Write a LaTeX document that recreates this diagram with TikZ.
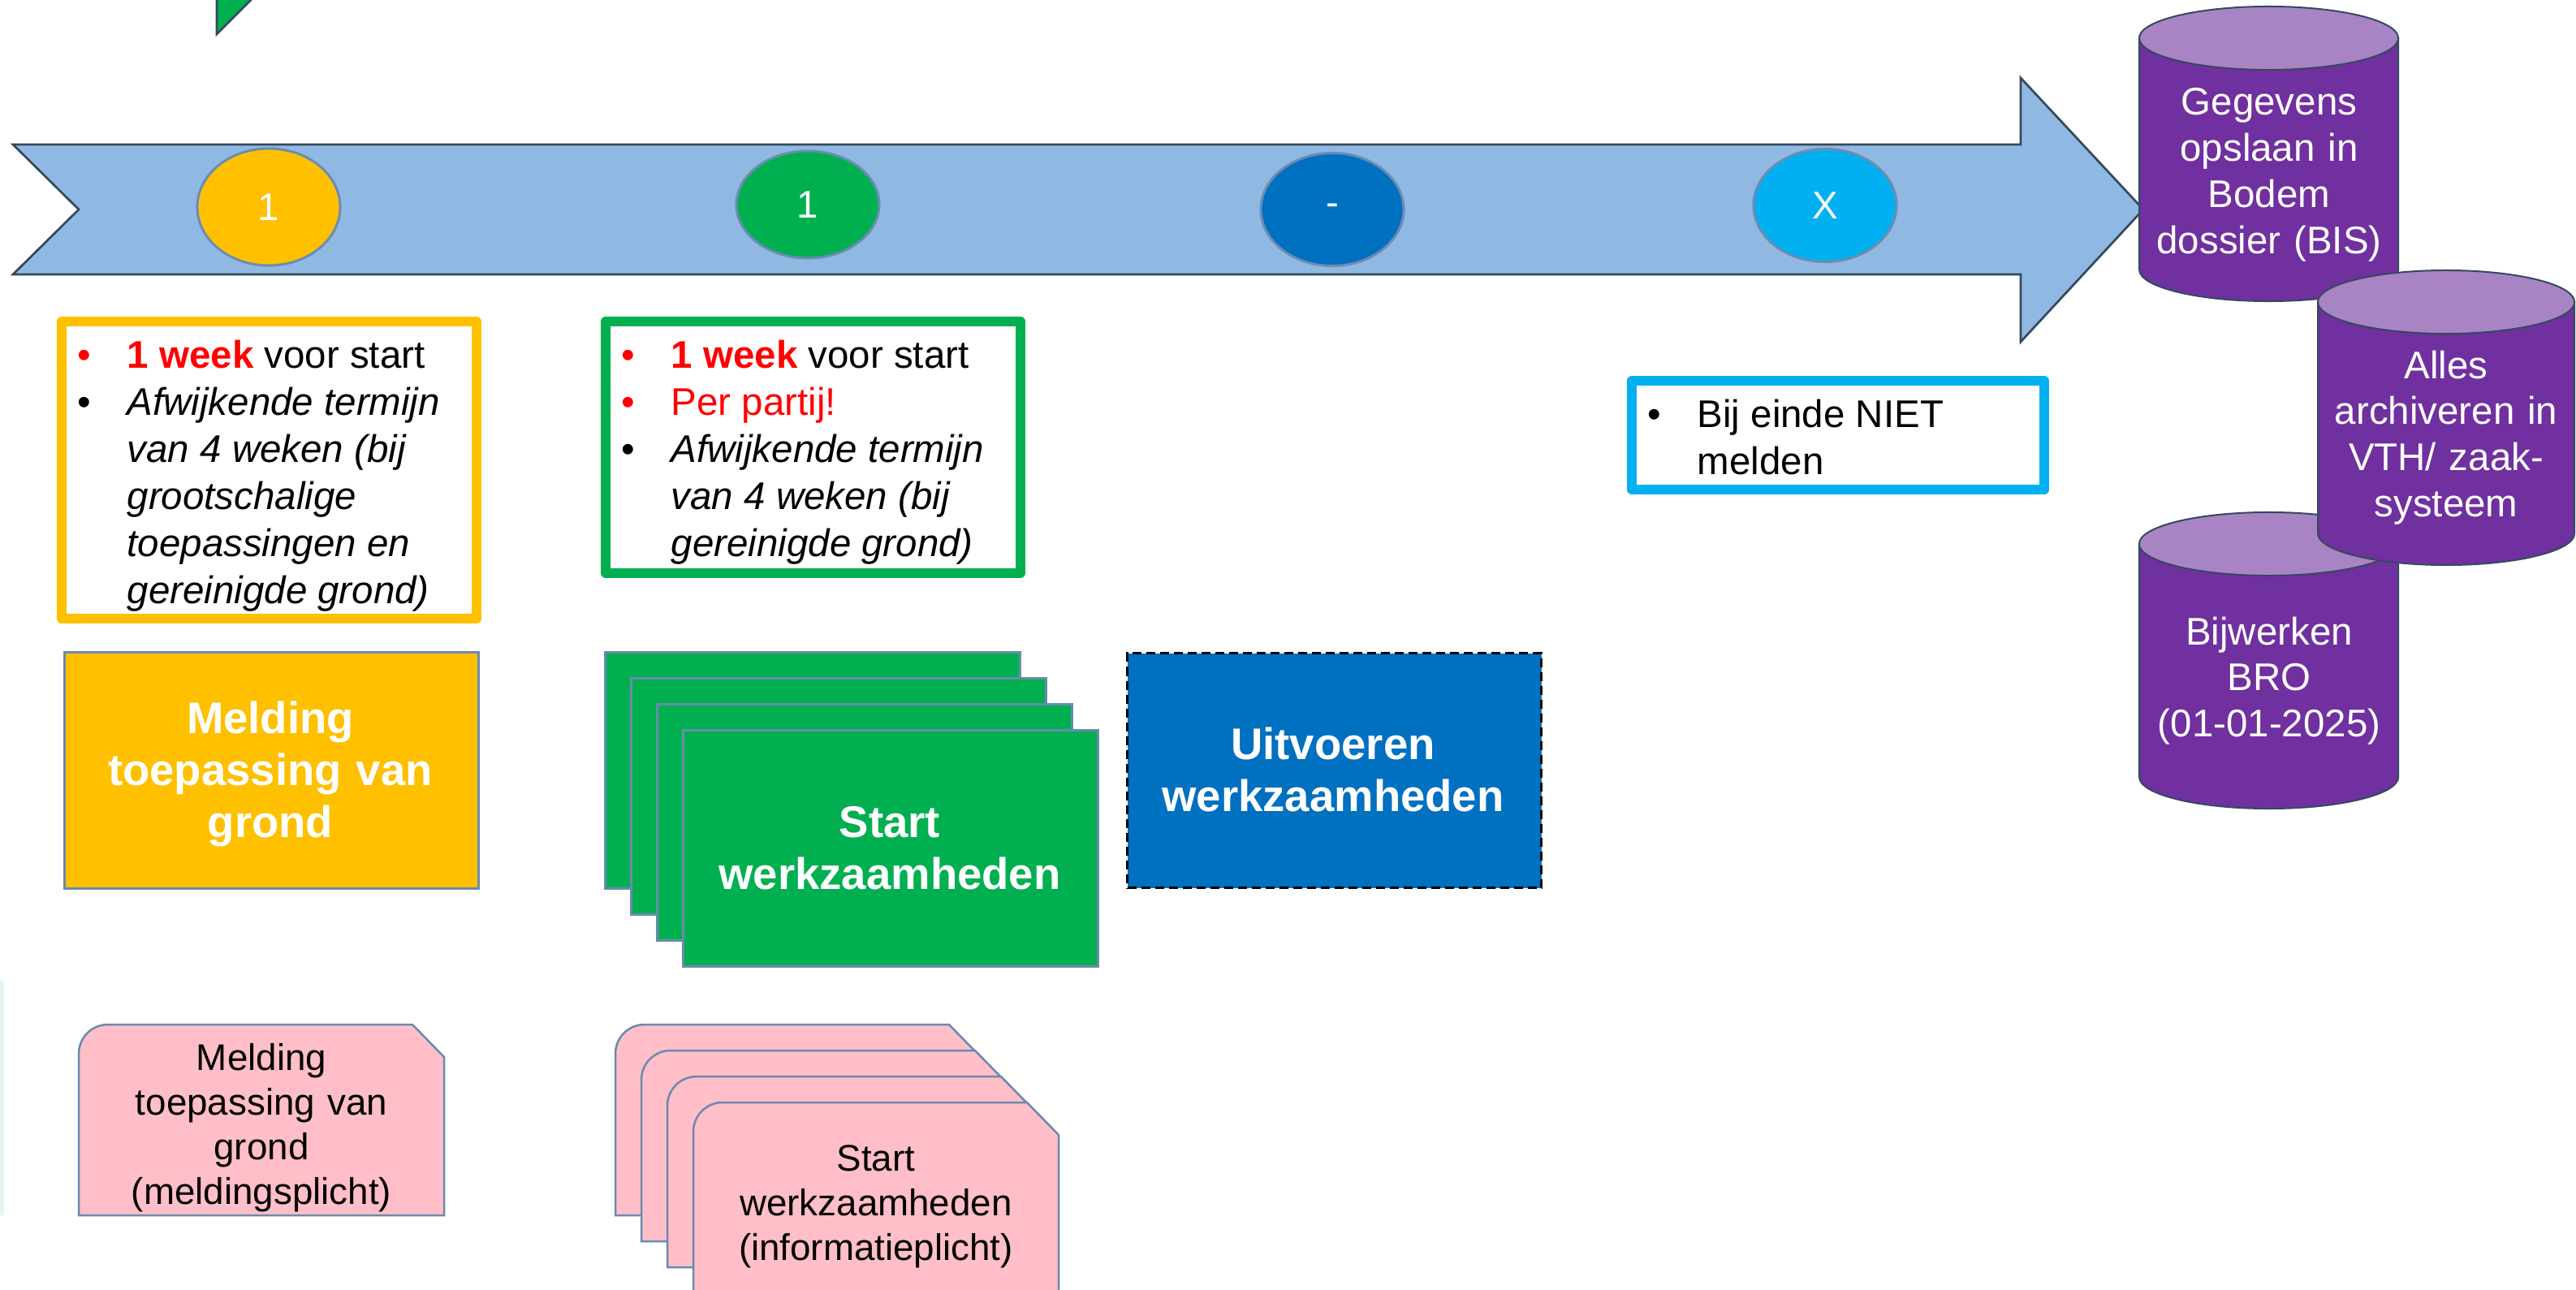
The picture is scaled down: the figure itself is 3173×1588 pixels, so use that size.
\documentclass[tikz,border=0pt]{standalone}
\usepackage{fontspec}
\setmainfont{Liberation Sans}
\usetikzlibrary{shapes.geometric}
\definecolor{arrowfill}{RGB}{143,185,227}
\definecolor{arrowline}{RGB}{52,73,94}
\definecolor{ellline}{RGB}{108,140,178}
\definecolor{yelc}{RGB}{255,192,0}
\definecolor{grnc}{RGB}{0,176,80}
\definecolor{bluc}{RGB}{0,112,192}
\definecolor{cyac}{RGB}{0,176,240}
\definecolor{purc}{RGB}{112,48,160}
\definecolor{lavc}{RGB}{169,132,196}
\definecolor{pinkc}{RGB}{255,190,200}
\definecolor{bordc}{RGB}{106,138,174}
\definecolor{redc}{RGB}{255,0,0}
\definecolor{mintc}{RGB}{230,245,240}
\newcommand\bul[1][black]{\makebox[0.61cm][l]{\textcolor{#1}{\textbullet}}}
\newcommand\fsnorm{\fontsize{13.5pt}{16.2pt}\selectfont}
\newcommand\fslist{\fontsize{13.5pt}{16.5pt}\selectfont}
\newcommand\pinkdoc[2]{\path[docshape] ({#1},{#2+235}) -- ({#1},{#2+36}) .. controls ({#1},{#2+16}) and ({#1+16},{#2}) .. ({#1+36},{#2}) -- ({#1+411},{#2}) -- ({#1+450},{#2+40}) -- ({#1+450},{#2+235}) -- cycle;}
\newcommand\cylshape[4]{% left, right, top centre y, bottom centre y
  \path[cylbody] ({#1},{#3}) -- ({#1},{#4}) arc[start angle=180, end angle=360, x radius={(#2-#1)/200*1cm}, y radius=0.39cm] -- ({#2},{#3}) -- cycle;
  \path[cyltop] ({(#1+#2)/2},{#3}) ellipse [x radius={(#2-#1)/200*1cm}, y radius=0.39cm];}
\begin{document}
\begin{tikzpicture}[x=0.01cm,y=-0.01cm,
  numell/.style={ellipse, draw=ellline, line width=0.03cm, inner sep=0, text=white, font=\fsnorm, minimum width=1.76cm},
  outlinebox/.style={draw=#1, line width=0.12cm, line join=round, fill=white},
  bulletlist/.style={anchor=base west, inner sep=0, font=\fslist},
  boldlbl/.style={anchor=base, inner sep=0, text width=5cm, align=center, text=white, font=\bfseries\fontsize{15.5pt}{18.3pt}\selectfont},
  doclbl/.style={anchor=base, inner sep=0, text width=4.4cm, align=center, font=\fontsize{13pt}{15.65pt}\selectfont},
  cyllbl/.style={anchor=base, inner sep=0, text width=3.2cm, align=center, text=white, font=\fsnorm},
  flatbox/.style={draw=bordc, line width=0.025cm, inner sep=0, anchor=north west},
  docshape/.style={fill=pinkc, draw=bordc, line width=0.025cm},
  cylbody/.style={fill=purc, draw=arrowline, line width=0.02cm},
  cyltop/.style={fill=lavc, draw=arrowline, line width=0.02cm}]
\useasboundingbox (0,0) rectangle (3173,1588);
\clip (0,0) rectangle (3173,1588);
\fill[white] (0,0) rectangle (3173,1588);
% green tip at the top
\path[fill=grnc, draw=arrowline, line width=0.027cm] (267,-20) -- (267,42) -- (329,-20) -- cycle;
% faint strip at left edge
\fill[mintc] (0,1208) rectangle (5,1497);
% big arrow
\path[fill=arrowfill, draw=arrowline, line width=0.027cm] (16,178) -- (2489,178) -- (2489,96) -- (2640,258) -- (2489,421) -- (2489,338) -- (16,338) -- (97,258) -- cycle;
% numbered ellipses
\node[numell, fill=yelc, minimum height=1.44cm] (e1) at (331,255) {1};
\node[numell, fill=grnc, minimum height=1.32cm] (e2) at (995,252) {1};
\node[numell, fill=bluc, minimum height=1.39cm] (e3) at (1641,258) {-};
\node[numell, fill=cyac, minimum height=1.39cm] (e4) at (2248,253) {X};
% cylinders
\cylshape{2635}{2954}{47}{332}
\cylshape{2635}{2954}{670}{957}
\cylshape{2855}{3171}{372}{657}
\node[cyllbl] (c1) at (2795,142) {Gegevens\\opslaan in\\Bodem\\dossier (BIS)};
\node[cyllbl] (c2) at (3013,466) {Alles\\archiveren in\\VTH/ zaak-\\systeem};
\node[cyllbl] (c3) at (2795,794) {Bijwerken\\BRO\\(01-01-2025)};
% outlined bullet boxes
\path[outlinebox=yelc] (76,396) rectangle (587,762);
\path[outlinebox=grnc] (746,396) rectangle (1257,706);
\path[outlinebox=cyac] (2010,469) rectangle (2518,603);
\node[bulletlist] (ytext) at (95,453) {\begin{tabular}[t]{@{}l@{}l@{}}
  \bul[redc] & \textcolor{redc}{\textbf{1 week}} voor start\\
  \bul & \itshape Afwijkende termijn\\
  & \itshape van 4 weken (bij\\
  & \itshape grootschalige\\
  & \itshape toepassingen en\\
  & \itshape gereinigde grond)
  \end{tabular}};
\node[bulletlist] (gtext) at (765,453) {\begin{tabular}[t]{@{}l@{}l@{}}
  \bul[redc] & \textcolor{redc}{\textbf{1 week}} voor start\\
  \bul[redc] & \textcolor{redc}{Per partij!}\\
  \bul & \itshape Afwijkende termijn\\
  & \itshape van 4 weken (bij\\
  & \itshape gereinigde grond)
  \end{tabular}};
\node[bulletlist] (ctext) at (2029,526) {\begin{tabular}[t]{@{}l@{}l@{}}
  \bul & Bij einde NIET\\
  & melden
  \end{tabular}};
% filled boxes
\node[flatbox, fill=yelc, minimum width=5.1cm, minimum height=2.91cm] (mbox) at (78,802) {};
\node[boldlbl] (mlbl) at (333,903) {Melding\\toepassing van\\grond};
\foreach \i in {0,1,2}
  \node[flatbox, fill=grnc, minimum width=5.11cm, minimum height=2.91cm] (gs\i) at ({744+32*\i},{802+32*\i}) {};
\node[flatbox, fill=grnc, minimum width=5.11cm, minimum height=2.91cm] (gs3) at (840,898) {};
\node[boldlbl] (slbl) at (1096,1031) {Start\\werkzaamheden};
\node[flatbox, fill=bluc, draw=black, dash pattern=on 0.11cm off 0.06cm, line width=0.03cm, minimum width=5.1cm, minimum height=2.89cm] (ubox) at (1387,803) {};
\node[boldlbl] (ulbl) at (1642,935) {Uitvoeren\\werkzaamheden};
% pink documents
\pinkdoc{97}{1262}
\node[doclbl] (d1) at (322,1318) {Melding\\toepassing van\\grond\\(meldingsplicht)};
\foreach \i in {0,1,2,3} {\pinkdoc{758+32*\i}{1262+32*\i}}
\node[doclbl] (d2) at (1079,1442) {Start\\werkzaamheden\\(informatieplicht)};
\end{tikzpicture}
\end{document}
